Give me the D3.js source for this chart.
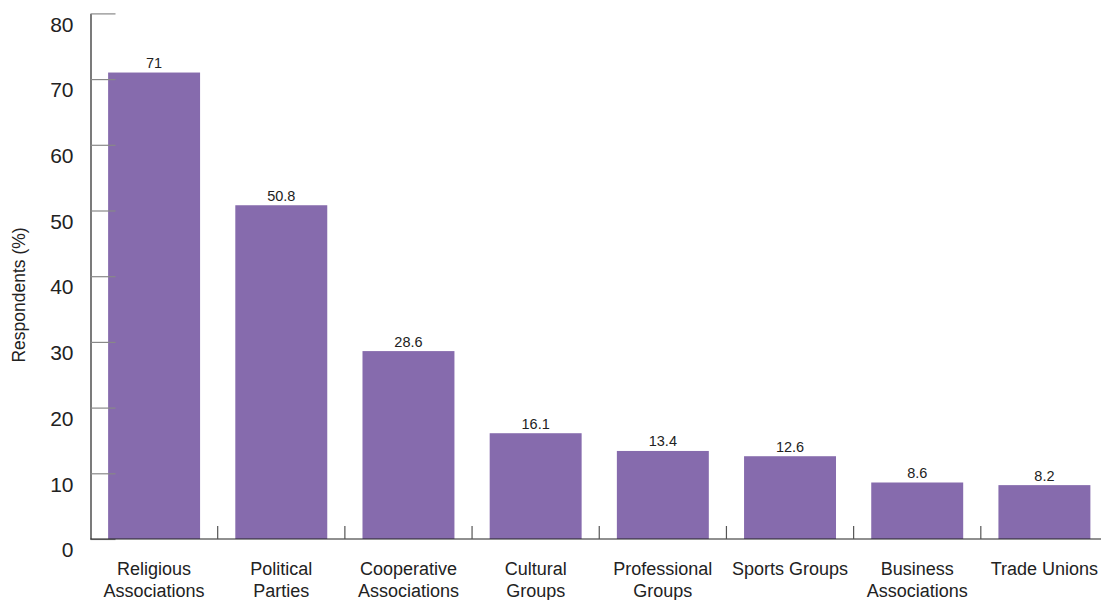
<!DOCTYPE html>
<html>
<head>
<meta charset="utf-8">
<script src="https://cdn.jsdelivr.net/npm/d3@7"></script>
<style>
  html, body { margin: 0; padding: 0; background: #fff; }
  svg { display: block; font-family: "Liberation Sans", Arial, sans-serif; }
</style>
</head>
<body>
<svg id="chart" width="1101" height="600"></svg>
<script>
// Share of respondents who belong to each type of association
const categories = [
  "Religious Associations", "Political Parties", "Cooperative Associations",
  "Cultural Groups", "Professional Groups", "Sports Groups",
  "Business Associations", "Trade Unions"
];
const values = [71, 50.8, 28.6, 16.1, 13.4, 12.6, 8.6, 8.2];
// How each category name is broken across lines under the axis
const categoryLines = [
  ["Religious", "Associations"], ["Political", "Parties"], ["Cooperative", "Associations"],
  ["Cultural", "Groups"], ["Professional", "Groups"], ["Sports Groups"],
  ["Business", "Associations"], ["Trade Unions"]
];
const yTicks = [0, 10, 20, 30, 40, 50, 60, 70, 80];
const yTitle = "Respondents (%)";

const svg = d3.select("#chart");
const plotLeft = 90.5, plotRight = 1108, plotTop = 13.4, plotBottom = 539;

const x = d3.scaleBand().domain(categories).range([plotLeft, plotRight])
  .paddingInner(0.277).paddingOuter(0.1385);
const y = d3.scaleLinear().domain([0, 80]).range([plotBottom, plotTop]);

// Bars
svg.append("g").selectAll("rect").data(categories).join("rect")
  .attr("x", d => x(d))
  .attr("y", (d, i) => y(values[i]))
  .attr("width", x.bandwidth())
  .attr("height", (d, i) => y(0) - y(values[i]))
  .attr("fill", "#866bad");

// Value labels above the bars
svg.append("g").selectAll("text").data(categories).join("text")
  .attr("x", d => x(d) + x.bandwidth() / 2)
  .attr("y", (d, i) => y(values[i]) - 4.5)
  .attr("text-anchor", "middle")
  .attr("font-size", 14.5)
  .attr("fill", "#222")
  .text((d, i) => values[i]);

// Y axis: short inward ticks, labels sitting just below each tick
const yAxis = svg.append("g").attr("transform", `translate(${plotLeft},0)`)
  .call(d3.axisLeft(y).tickValues(yTicks).tickSize(-25).tickSizeOuter(0).tickPadding(17));
yAxis.select(".domain").attr("stroke", "#222").attr("stroke-width", 1.2);
yAxis.selectAll(".tick line").attr("stroke", "#888").attr("stroke-width", 1.2);
yAxis.selectAll(".tick text")
  .attr("y", 11).attr("font-size", 21).attr("fill", "#222")
  .attr("font-family", "Liberation Sans, Arial, sans-serif");

// X axis line
svg.append("line")
  .attr("x1", plotLeft).attr("x2", 1101)
  .attr("y1", y(0)).attr("y2", y(0))
  .attr("stroke", "#222").attr("stroke-width", 1.2);

// Separator ticks between categories
const gap = x.step() - x.bandwidth();
svg.append("g").selectAll("line").data(categories.slice(0, -1)).join("line")
  .attr("x1", d => x(d) + x.bandwidth() + gap / 2)
  .attr("x2", d => x(d) + x.bandwidth() + gap / 2)
  .attr("y1", y(0)).attr("y2", y(0) - 13)
  .attr("stroke", "#555").attr("stroke-width", 1.2);

// Category labels
const catText = svg.append("g").selectAll("text").data(categories).join("text")
  .attr("x", d => x(d) + x.bandwidth() / 2)
  .attr("y", 575)
  .attr("text-anchor", "middle")
  .attr("font-size", 18)
  .attr("fill", "#222");
catText.each(function(d, i) {
  const t = d3.select(this);
  categoryLines[i].forEach((line, j) => {
    t.append("tspan")
      .attr("x", x(d) + x.bandwidth() / 2)
      .attr("dy", j === 0 ? 0 : 22)
      .text(line);
  });
});

// Y axis title
svg.append("text")
  .attr("transform", "translate(25,295) rotate(-90)")
  .attr("text-anchor", "middle")
  .attr("font-size", 17.5)
  .attr("fill", "#222")
  .text(yTitle);
</script>
</body>
</html>
